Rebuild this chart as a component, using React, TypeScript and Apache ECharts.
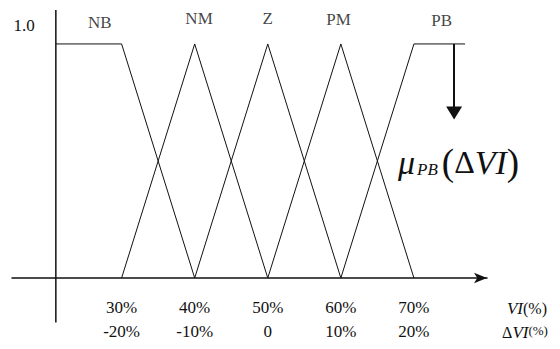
import React, { useEffect, useRef } from "react";
import * as echarts from "echarts";

// Fuzzy sets over VI (%): breakpoints as [VI %, membership]
const setNames = ["NB", "NM", "Z", "PM", "PB"];
const nbPoints = [[21, 1], [30, 1], [40, 0]];
const nmPoints = [[30, 0], [40, 1], [50, 0]];
const zPoints = [[40, 0], [50, 1], [60, 0]];
const pmPoints = [[50, 0], [60, 1], [70, 0]];
const pbPoints = [[60, 0], [70, 1], [77, 1]];
const setLabelX = [27, 40.6, 50, 59.7, 73.8];
const setLabelY = [1.09, 1.11, 1.11, 1.105, 1.1];

// Membership axis, drawn at VI = 21 and running slightly below zero
const memberAxis = [[21, -0.19], [21, 1.145]];

// Tick labels: VI (%) and its deviation ΔVI (%)
const viTicks = [30, 40, 50, 60, 70];
const dviTicks = ["-20%", "-10%", "0", "10%", "20%"];

// Read-out arrow on PB: from membership 1 down to the marked level
const arrowX = 75.5;
const arrowFrom = 1;
const arrowTo = 0.705;

const SERIF = "'Liberation Serif', 'DejaVu Serif', serif";
const INK = "#111";

export default function App() {
  const ref = useRef<HTMLDivElement>(null);

  useEffect(() => {
    if (!ref.current) return;
    const chart = echarts.init(ref.current, null, { renderer: "svg" });

    const sets = [nbPoints, nmPoints, zPoints, pmPoints, pbPoints];

    const lineSeries = sets.map((pts, i) => ({
      type: "line",
      name: setNames[i],
      data: pts,
      symbol: "none",
      lineStyle: { color: INK, width: 1 },
      silent: true,
      z: 3,
    }));

    chart.setOption({
      animation: false,
      backgroundColor: "#fff",
      grid: { left: 12, right: 73, top: 10, bottom: 71, outerBoundsMode: "none", containLabel: false },
      xAxis: {
        type: "value",
        min: 15,
        max: 80,
        splitLine: { show: false },
        axisTick: { show: false },
        axisLine: {
          show: true,
          onZero: false,
          symbol: ["none", "arrow"],
          symbolSize: [8, 13],
          lineStyle: { color: INK, width: 1.5 },
        },
        axisLabel: {
          customValues: viTicks,
          margin: 17,
          color: INK,
          fontFamily: SERIF,
          fontSize: 17,
          lineHeight: 24,
          formatter: (v: number) => {
            const i = viTicks.indexOf(v);
            return i < 0 ? "" : `${v}%\n${dviTicks[i]}`;
          },
        },
      },
      yAxis: {
        type: "value",
        min: 0,
        max: 1.145,
        show: false,
        splitLine: { show: false },
      },
      series: [
        ...lineSeries,
        {
          type: "line",
          name: "membership axis",
          data: memberAxis,
          symbol: "none",
          clip: false,
          silent: true,
          lineStyle: { color: INK, width: 1.5 },
          z: 2,
        },
        {
          type: "scatter",
          name: "labels",
          symbolSize: 0,
          clip: false,
          silent: true,
          data: setNames.map((n, i) => ({ name: n, value: [setLabelX[i], setLabelY[i]] })),
          label: {
            show: true,
            position: "inside",
            formatter: "{b}",
            color: INK,
            fontFamily: SERIF,
            fontSize: 17,
          },
          markLine: {
            silent: true,
            label: { show: false },
            emphasis: { disabled: true },
            data: [
              [
                {
                  coord: [arrowX, arrowFrom],
                  symbol: "none",
                  lineStyle: { color: INK, width: 2, type: "solid" },
                },
                { coord: [arrowX, arrowTo], symbol: "triangle", symbolSize: [16, 13] },
              ],
            ],
          },
        },
      ],
      graphic: [
        {
          type: "text",
          x: 24,
          y: 25,
          style: {
            text: "1.0",
            fill: INK,
            font: `17px ${SERIF}`,
            align: "center",
            verticalAlign: "middle",
          },
        },
        {
          type: "text",
          x: 398,
          y: 162,
          style: {
            text: "{mu|μ}{sub|PB}{p|(}{d|Δ}{it|VI}{p|)}",
            verticalAlign: "middle",
            fill: INK,
            rich: {
              mu: { fontFamily: SERIF, fontStyle: "italic", fontSize: 34, lineHeight: 40, fill: INK },
              sub: { fontFamily: SERIF, fontStyle: "italic", fontSize: 17, lineHeight: 40, verticalAlign: "bottom", padding: [0, 4, 4, 2], fill: INK },
              p: { fontFamily: SERIF, fontSize: 37, lineHeight: 40, fill: INK },
              d: { fontFamily: SERIF, fontSize: 32, lineHeight: 40, fill: INK },
              it: { fontFamily: SERIF, fontStyle: "italic", fontSize: 34, lineHeight: 40, fill: INK },
            },
          },
        },
        {
          type: "text",
          x: 527,
          y: 308,
          style: {
            text: "{it|VI}{n|(%)}",
            align: "center",
            verticalAlign: "middle",
            fill: INK,
            rich: {
              it: { fontFamily: SERIF, fontStyle: "italic", fontSize: 17, fill: INK },
              n: { fontFamily: SERIF, fontSize: 16, fill: INK },
            },
          },
        },
        {
          type: "text",
          x: 525,
          y: 332,
          style: {
            text: "{d|Δ}{it|VI}{n|(%)}",
            align: "center",
            verticalAlign: "middle",
            fill: INK,
            rich: {
              d: { fontFamily: SERIF, fontSize: 16, fill: INK },
              it: { fontFamily: SERIF, fontStyle: "italic", fontSize: 17, fill: INK },
              n: { fontFamily: SERIF, fontSize: 13, verticalAlign: "top", fill: INK },
            },
          },
        },
      ],
    });

    return () => chart.dispose();
  }, []);

  return (
    <div
      ref={ref}
      style={{ position: "fixed", left: 0, top: 0, width: 560, height: 349, background: "#fff" }}
    />
  );
}
